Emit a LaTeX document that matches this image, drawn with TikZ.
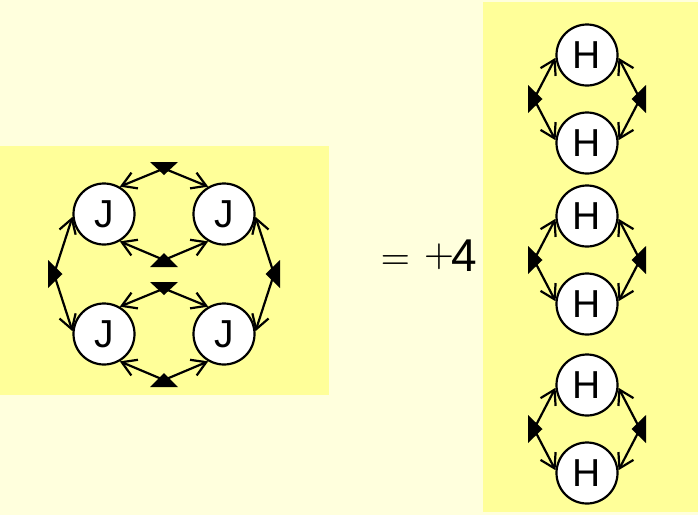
\documentclass[tikz,border=0pt]{standalone}
\usepackage{fontspec}
\setmainfont{Liberation Sans}
\usetikzlibrary{arrows.meta}
\definecolor{bglight}{RGB}{255,255,221}
\definecolor{boxyellow}{RGB}{255,255,153}
\begin{document}
\begin{tikzpicture}[x=1pt,y=-1pt,
  bub/.style={circle, draw=black, line width=2.2pt, fill=white, minimum size=61pt, inner sep=0pt, font=\fontsize{39}{39}\selectfont},
  edge/.style={line width=2.2pt, -{Straight Barb[length=14pt,width=17pt,line width=2.2pt]}},
  tri/.style={fill=black},
  eqtext/.style={anchor=base, inner sep=0pt}
]
\useasboundingbox (0,0) rectangle (698,515);
\fill[bglight] (0,0) rectangle (698,515);
\fill[boxyellow] (0,145.5) rectangle (329,394.5);
\fill[boxyellow] (483,2) rectangle (698,512);

% J diagram
\node[bub] (J1) at (104,214) {J};
\node[bub] (J2) at (224,214) {J};
\node[bub] (J3) at (104,334) {J};
\node[bub] (J4) at (224,334) {J};
\coordinate (tA) at (164,168.5);
\coordinate (tB) at (164,260);
\coordinate (tC) at (164,288.5);
\coordinate (tD) at (164,380);
\coordinate (tL) at (54,274);
\coordinate (tR) at (274,274);
\draw[edge] (tA) -- (J1.60);
\draw[edge] (tA) -- (J2.120);
\draw[edge] (tB) -- (J1.-60);
\draw[edge] (tB) -- (J2.-120);
\draw[edge] (tC) -- (J3.60);
\draw[edge] (tC) -- (J4.120);
\draw[edge] (tD) -- (J3.-60);
\draw[edge] (tD) -- (J4.-120);
\draw[edge] (tL) -- (J1.185);
\draw[edge] (tL) -- (J3.175);
\draw[edge] (tR) -- (J2.-5);
\draw[edge] (tR) -- (J4.5);
\fill[tri,shift={(tA)}] (-14,-6.5) -- (14,-6.5) -- (0,6.5) -- cycle;
\fill[tri,shift={(tB)}] (-14,7) -- (14,7) -- (0,-7) -- cycle;
\fill[tri,shift={(tC)}] (-14,-6.5) -- (14,-6.5) -- (0,6.5) -- cycle;
\fill[tri,shift={(tD)}] (-14,7) -- (14,7) -- (0,-7) -- cycle;
\fill[tri,shift={(tL)}] (-6,-14) -- (-6,14) -- (8.5,0) -- cycle;
\fill[tri,shift={(tR)}] (6,-14) -- (6,14) -- (-8.5,0) -- cycle;

% equation
\node[eqtext] (eqA) at (395.5,269) {\scalebox{3.8}{$=$}};
\node[eqtext] (eqB) at (439,266.5) {\scalebox{3.9}{$+$}};
\node[eqtext, font=\fontsize{46}{46}\selectfont] (eqC) at (464,271) {4};

% H diagrams
\foreach \i/\ya/\yb/\ym in {1/55/143/99, 2/216/304/260, 3/385/473/429}{
  \node[bub] (H\i a) at (587,\ya) {H};
  \node[bub] (H\i b) at (587,\yb) {H};
  \coordinate (hL\i) at (534,\ym);
  \coordinate (hR\i) at (640,\ym);
  \draw[edge] (hL\i) -- (H\i a.185);
  \draw[edge] (hL\i) -- (H\i b.175);
  \draw[edge] (hR\i) -- (H\i a.-5);
  \draw[edge] (hR\i) -- (H\i b.5);
  \fill[tri,shift={(hL\i)}] (-6,-14) -- (-6,14) -- (8.5,0) -- cycle;
  \fill[tri,shift={(hR\i)}] (6,-14) -- (6,14) -- (-8.5,0) -- cycle;
}
\end{tikzpicture}
\end{document}
